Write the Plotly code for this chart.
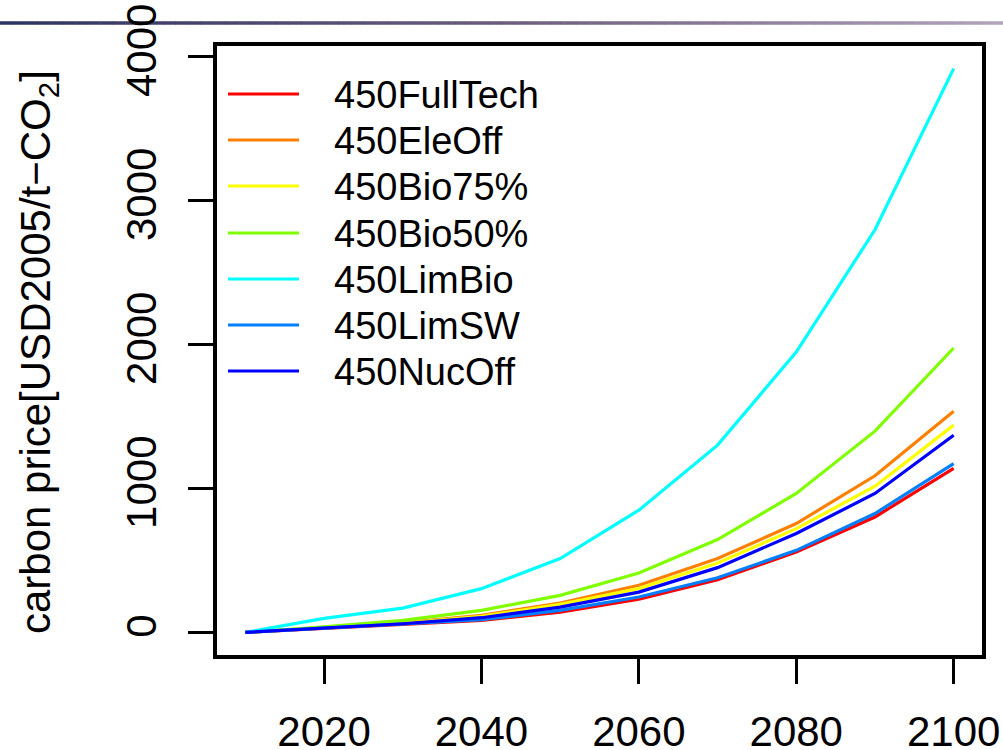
import plotly.graph_objects as go

years = [2010, 2020, 2030, 2040, 2050, 2060, 2070, 2080, 2090, 2100]

scenarios = ["450FullTech", "450EleOff", "450Bio75%", "450Bio50%", "450LimBio", "450LimSW", "450NucOff"]
colors = ["#FF0000", "#FF8000", "#FFFF00", "#80FF00", "#00FFFF", "#0080FF", "#0000FF"]

full_tech = [0, 27, 55, 83, 141, 230, 366, 559, 802, 1139]
ele_off   = [0, 33, 66, 118, 204, 327, 513, 756, 1088, 1537]
bio75     = [0, 32, 63, 111, 195, 304, 482, 721, 1016, 1440]
bio50     = [0, 38, 83, 153, 257, 413, 645, 965, 1398, 1976]
lim_bio   = [0, 97, 169, 304, 513, 849, 1301, 1948, 2797, 3917]
lim_sw    = [0, 29, 58, 88, 153, 246, 380, 570, 826, 1173]
nuc_off   = [0, 31, 60, 102, 176, 280, 450, 687, 965, 1370]

series = [full_tech, ele_off, bio75, bio50, lim_bio, lim_sw, nuc_off]

x_ticks = [2020, 2040, 2060, 2080, 2100]
y_ticks = [0, 1000, 2000, 3000, 4000]

FONT = "Liberation Sans, Arial, Helvetica, sans-serif"
W, H = 1003, 750
L, R, T, B = 217, 21, 46, 95
PW, PH = W - L - R, H - T - B


def px_x(p):
    return (p - L) / PW


def px_y(p):
    return (H - B - p) / PH


fig = go.Figure()
for name, col, vals in zip(scenarios, colors, series):
    fig.add_trace(go.Scatter(x=years, y=vals, mode="lines", name=name,
                             line=dict(color=col, width=3.2), showlegend=False))

shapes = []
annotations = []

# top decorative gradient rule
n = 80
c0 = (0x2e, 0x34, 0x62)
c1 = (0x6c, 0x5c, 0x7e)
c2 = (0xb2, 0xa2, 0xba)
for i in range(n):
    t = i / (n - 1)
    if t < 0.5:
        a, b, u = c0, c1, t / 0.5
    else:
        a, b, u = c1, c2, (t - 0.5) / 0.5
    c = tuple(int(a[k] + (b[k] - a[k]) * u) for k in range(3))
    x0 = i * W / n
    x1 = (i + 1) * W / n + 0.5
    shapes.append(dict(type="line", xref="paper", yref="paper",
                       x0=px_x(x0), x1=px_x(x1), y0=px_y(23), y1=px_y(23),
                       line=dict(color="rgb(%d,%d,%d)" % c, width=3.5), layer="below"))

# legend (manual, R-style)
row_y = [94, 140, 186, 233, 279, 325, 371]
for name, col, ry in zip(scenarios, colors, row_y):
    shapes.append(dict(type="line", xref="paper", yref="paper",
                       x0=px_x(228), x1=px_x(299), y0=px_y(ry), y1=px_y(ry),
                       line=dict(color=col, width=3.2)))
    annotations.append(dict(text=name, xref="paper", yref="paper",
                            x=px_x(332), y=px_y(ry + 1), xanchor="left", yanchor="middle",
                            showarrow=False, font=dict(family=FONT, size=38, color="black")))

annotations.append(dict(text="carbon price[USD2005/t\u2212CO<sub>2</sub>]", xref="paper", yref="paper",
                        x=px_x(38), y=px_y(352), xanchor="center", yanchor="middle",
                        textangle=-90, showarrow=False,
                        font=dict(family=FONT, size=42, color="black")))

fig.update_layout(
    width=W, height=H,
    margin=dict(l=L, r=R, t=T, b=B, pad=0, autoexpand=False),
    paper_bgcolor="white", plot_bgcolor="white",
    font=dict(family=FONT, size=42, color="black"),
    shapes=shapes, annotations=annotations,
    showlegend=False,
)
fig.update_xaxes(range=[2006.4, 2103.6], tickvals=x_ticks, ticks="outside", ticklen=25,
                 tickwidth=3, tickcolor="black", showline=True, linewidth=3.5, linecolor="black",
                 mirror=True, showgrid=False, zeroline=False, ticklabelstandoff=12, automargin=False,
                 tickfont=dict(family=FONT, size=42, color="black"))
fig.update_yaxes(range=[-157, 4074], tickvals=y_ticks, ticks="outside", ticklen=25,
                 tickwidth=3, tickcolor="black", showline=True, linewidth=3.5, linecolor="black",
                 mirror=True, showgrid=False, zeroline=False, tickangle=-90, ticklabelstandoff=15,
                 automargin=False,
                 tickfont=dict(family=FONT, size=42, color="black"))

fig.write_html("out.html", config={"displayModeBar": False},
               post_script="document.body.style.margin='0';document.body.style.overflow='hidden';")
